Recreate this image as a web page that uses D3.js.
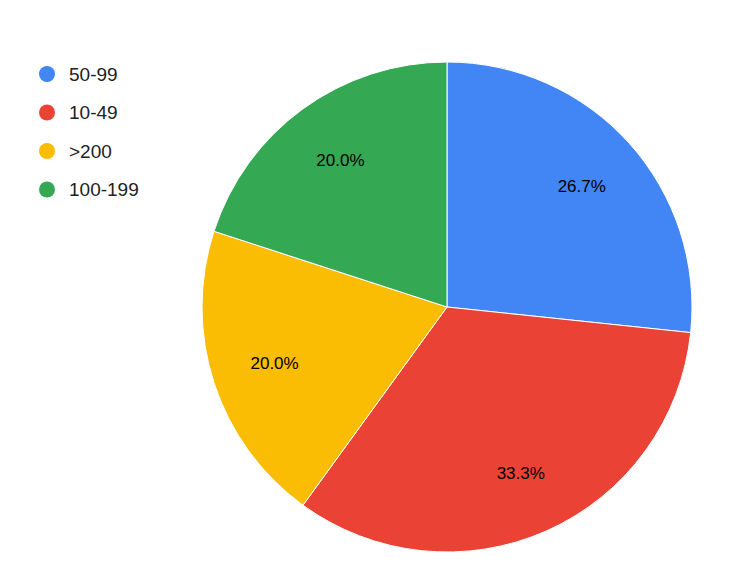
<!DOCTYPE html>
<html><head><meta charset="utf-8">
<script src="https://cdn.jsdelivr.net/npm/d3@7"></script>
<style>body{margin:0;background:#fff}</style>
</head><body>
<script>
const categories = ["50-99", "10-49", ">200", "100-199"];
const values = [4, 5, 3, 3];
const colors = ["#4285f4", "#ea4335", "#fbbc04", "#34a853"];

const W = 754, H = 584, cx = 447, cy = 307, r = 245;
const svg = d3.select("body").append("svg").attr("width", W).attr("height", H);
const total = d3.sum(values);
const pie = d3.pie().sort(null).value(d => d)(values);
const arc = d3.arc().innerRadius(0).outerRadius(r);
const lab = d3.arc().innerRadius(r * 0.74).outerRadius(r * 0.74);
const g = svg.append("g").attr("transform", `translate(${cx},${cy})`);
g.selectAll("path").data(pie).join("path")
  .attr("d", arc).attr("fill", (d, i) => colors[i])
  .attr("stroke", "#fff").attr("stroke-width", 1);
g.selectAll("text").data(pie).join("text")
  .attr("transform", d => `translate(${lab.centroid(d)})`)
  .attr("text-anchor", "middle").attr("dy", "0.35em")
  .attr("font-family", "Liberation Sans, Arial, sans-serif").attr("font-size", 17)
  .attr("fill", "#000")
  .text(d => (d.value / total * 100).toFixed(1) + "%");

const leg = svg.append("g");
categories.forEach((c, i) => {
  const y = 74 + i * 38.5;
  leg.append("circle").attr("cx", 47).attr("cy", y).attr("r", 8).attr("fill", colors[i]);
  leg.append("text").attr("x", 69).attr("y", y).attr("dy", "0.35em")
    .attr("font-family", "Liberation Sans, Arial, sans-serif").attr("font-size", 19)
    .attr("fill", "#222").text(c);
});
</script>
</body></html>
